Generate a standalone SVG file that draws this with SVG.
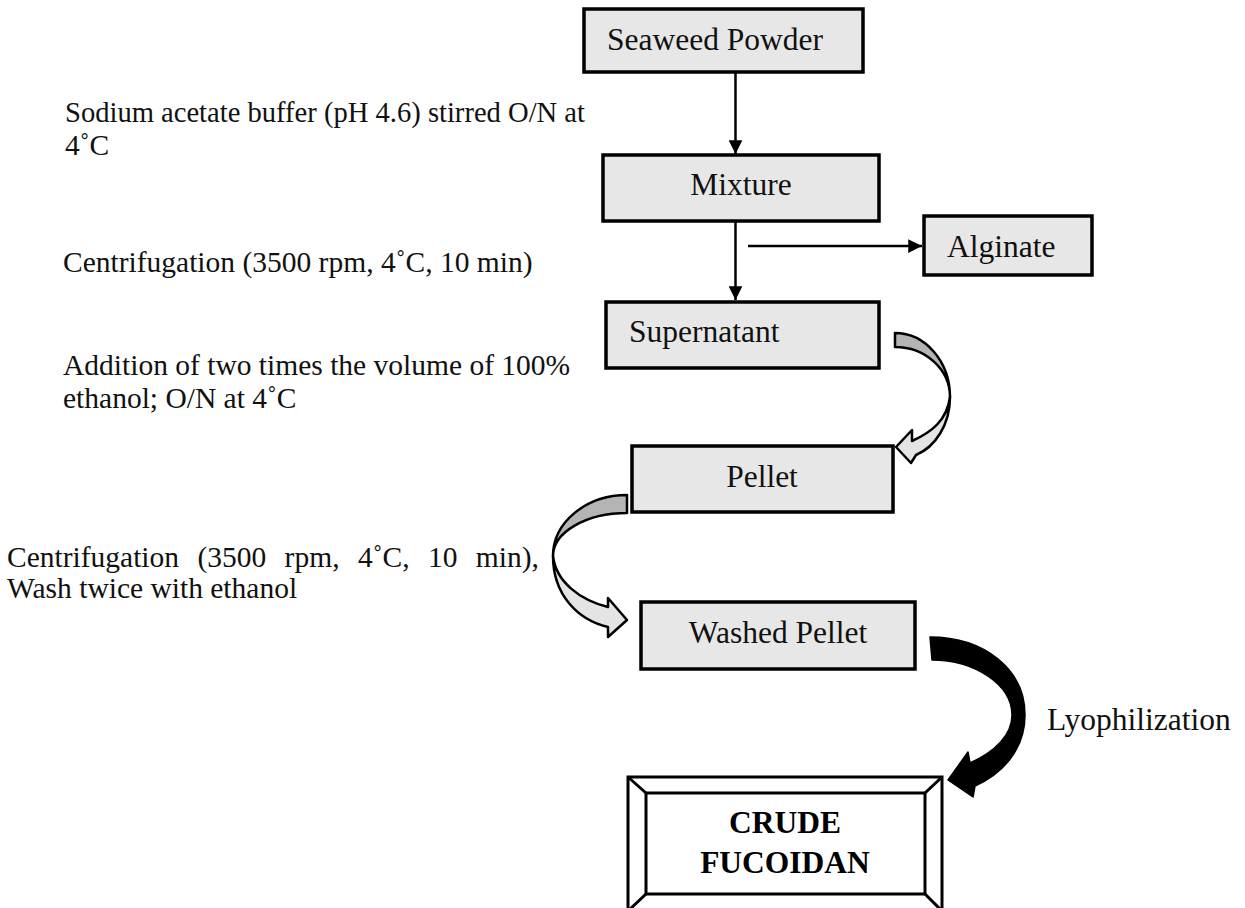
<svg xmlns="http://www.w3.org/2000/svg" width="1245" height="908" viewBox="0 0 1245 908">
<style>
  .box { fill: #e7e7e7; stroke: #000; stroke-width: 3.5; }
  .bt { font-family: "Liberation Serif", "Times New Roman", serif; font-size: 31.5px; fill: #111; }
  .lb { font-family: "Liberation Serif", "Times New Roman", serif; font-size: 29.5px; fill: #111; }
  .bold { font-family: "Liberation Serif", "Times New Roman", serif; font-size: 31.5px; font-weight: bold; fill: #000; }
  .ln { stroke: #000; stroke-width: 2.5; fill: none; }
  .cv { stroke: #000; stroke-width: 2.5; stroke-linejoin: round; }
</style>
<defs>
  <marker id="ah" viewBox="0 0 10 10" refX="10" refY="5" markerWidth="5.5" markerHeight="5.5" markerUnits="strokeWidth" orient="auto">
    <path d="M0,0 L10,5 L0,10 Z" fill="#000"/>
  </marker>
</defs>
<rect width="1245" height="908" fill="#fff"/>

<g id="labels">
  <text class="lb" x="65" y="122" textLength="520" lengthAdjust="spacingAndGlyphs">Sodium acetate buffer (pH 4.6) stirred O/N at</text>
  <text class="lb" x="65" y="155">4˚C</text>
  <text class="lb" x="63" y="272">Centrifugation (3500 rpm, 4˚C, 10 min)</text>
  <text class="lb" x="63" y="375">Addition of two times the volume of 100%</text>
  <text class="lb" x="63" y="408">ethanol; O/N at 4˚C</text>
  <text class="lb" x="7" y="567" word-spacing="11">Centrifugation (3500 rpm, 4˚C, 10 min),</text>
  <text class="lb" x="7" y="598">Wash twice with ethanol</text>
  <text class="bt" x="1047" y="730">Lyophilization</text>
</g>

<g id="connectors">
  <line class="ln" x1="735.5" y1="72" x2="735.5" y2="154" marker-end="url(#ah)"/>
  <line class="ln" x1="735.5" y1="221" x2="735.5" y2="300" marker-end="url(#ah)"/>
  <line class="ln" x1="748" y1="246" x2="922" y2="246" marker-end="url(#ah)"/>
  <!-- Supernatant to Pellet curved arrow -->
  <path class="cv" fill="#b4b4b4" d="M895,333 A55,64 0 0 1 950,397 A55,50 0 0 0 895,347 Z"/>
  <path class="cv" fill="#e4e4e4" d="M950,397 C950,425 935,447 916,455 L911,463 L896,447 L912,430 L912,441 C932,432 947,420 950,397 Z"/>
  <!-- Pellet to Washed Pellet curved arrow -->
  <path class="cv" fill="#b4b4b4" d="M627,495 A74,61 0 0 0 553,556 A74,43 0 0 1 627,513 Z"/>
  <path class="cv" fill="#e4e4e4" d="M553,556 C553,595 578,620 608,627 L608,637 L627,620 L608,598 L608,607 C580,600 556,582 553,556 Z"/>
  <!-- Lyophilization black arrow -->
  <path fill="#000" stroke="#000" stroke-width="1.5" stroke-linejoin="round" d="M930,637 C985,637 1025,670 1025,715 C1025,750 1002,774 975,786 L973,797 L948,780 L968,752 L970,763 C995,752 1012,735 1012,715 C1012,685 975,660 932,660 Z"/>
</g>

<g id="n-seaweed">
  <rect class="box" x="584" y="9" width="279" height="63"/>
  <text class="bt" x="607" y="50">Seaweed Powder</text>
</g>
<g id="n-mixture">
  <rect class="box" x="603" y="155" width="276" height="66"/>
  <text class="bt" x="741" y="195" text-anchor="middle">Mixture</text>
</g>
<g id="n-alginate">
  <rect class="box" x="924" y="216" width="168" height="59"/>
  <text class="bt" x="947" y="257">Alginate</text>
</g>
<g id="n-supernatant">
  <rect class="box" x="606" y="302" width="273" height="66"/>
  <text class="bt" x="629" y="342">Supernatant</text>
</g>
<g id="n-pellet">
  <rect class="box" x="632" y="446" width="261" height="66"/>
  <text class="bt" x="762" y="487" text-anchor="middle">Pellet</text>
</g>
<g id="n-washed">
  <rect class="box" x="641" y="602" width="274" height="67"/>
  <text class="bt" x="778" y="643" text-anchor="middle">Washed Pellet</text>
</g>
<g id="n-crude">
  <rect x="628" y="777" width="314" height="134" fill="#fff" stroke="#000" stroke-width="3"/>
  <rect x="646" y="793" width="279" height="101" fill="#fff" stroke="#000" stroke-width="3"/>
  <path d="M628,777 L646,793 M942,777 L925,793 M628,911 L646,894 M942,911 L925,894" stroke="#000" stroke-width="3" fill="none"/>
  <text class="bold" x="785" y="833" text-anchor="middle">CRUDE</text>
  <text class="bold" x="785" y="873" text-anchor="middle">FUCOIDAN</text>
</g>
</svg>
